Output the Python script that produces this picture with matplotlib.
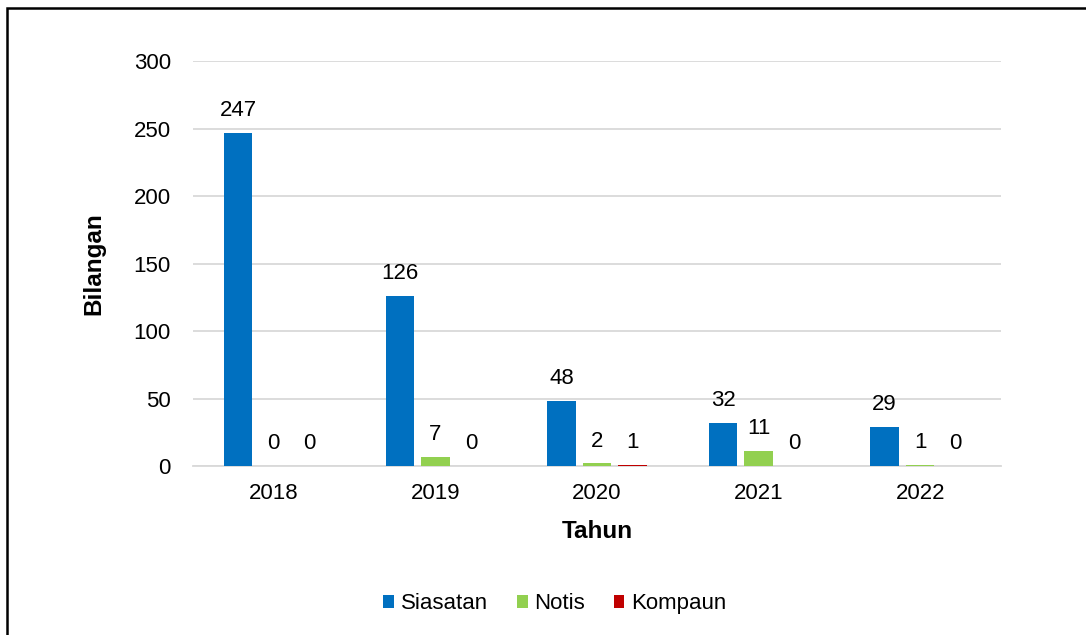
import matplotlib.pyplot as plt
import matplotlib.patches as mpatches
import numpy as np

plt.rcParams['font.family'] = ['Liberation Sans', 'DejaVu Sans']

years = ['2018', '2019', '2020', '2021', '2022']
siasatan = [247, 126, 48, 32, 29]
notis = [0, 7, 2, 11, 1]
kompaun = [0, 0, 1, 0, 0]

series = [('Siasatan', siasatan, '#0070C0'),
          ('Notis', notis, '#92D050'),
          ('Kompaun', kompaun, '#C00000')]

fs = 16

fig = plt.figure(figsize=(10.86, 6.35), dpi=100)
ax = fig.add_axes([0.1777, 0.2661, 0.744, 0.6378])

xpos = np.arange(len(years))
step = 0.22
width = 0.175
for i, (name, vals, col) in enumerate(series):
    off = (i - 1) * step
    bars = ax.bar(xpos + off, vals, width=width, color=col, label=name, zorder=3)
    for b, v in zip(bars, vals):
        ax.annotate(str(v), (b.get_x() + b.get_width() / 2, v),
                    xytext=(0, 8.5), textcoords='offset points',
                    ha='center', va='bottom', fontsize=fs)

ax.set_xlim(-0.5, len(years) - 0.5)
ax.set_ylim(0, 300)
ax.set_yticks(range(0, 301, 50))
ax.set_xticks(xpos)
ax.set_xticklabels(years)
ax.tick_params(axis='both', length=0, labelsize=fs)
ax.tick_params(axis='y', pad=16)
ax.tick_params(axis='x', pad=12)
ax.grid(axis='y', color='#D9D9D9', linewidth=1.3, zorder=0)
for s in ['top', 'right', 'left']:
    ax.spines[s].set_visible(False)
ax.spines['bottom'].set_color('#D9D9D9')
ax.spines['bottom'].set_linewidth(1.3)

ax.set_ylabel('Bilangan', fontsize=17.5, fontweight='bold', labelpad=20)
ax.set_xlabel('Tahun', fontsize=17.5, fontweight='bold', labelpad=12)

fig.legend(loc='center', bbox_to_anchor=(0.511, 0.049), ncol=3, frameon=False,
           fontsize=fs, handlelength=0.48, handleheight=0.48,
           handletextpad=0.3, columnspacing=1.3)

# outer frame, open at right and bottom
fig.patches.append(mpatches.Rectangle((7 / 1086, -0.1), 1.2, 1.1 - 8 / 635,
                                      transform=fig.transFigure, fill=False,
                                      edgecolor='black', linewidth=1.8))

fig.savefig('out.png', dpi=100)
